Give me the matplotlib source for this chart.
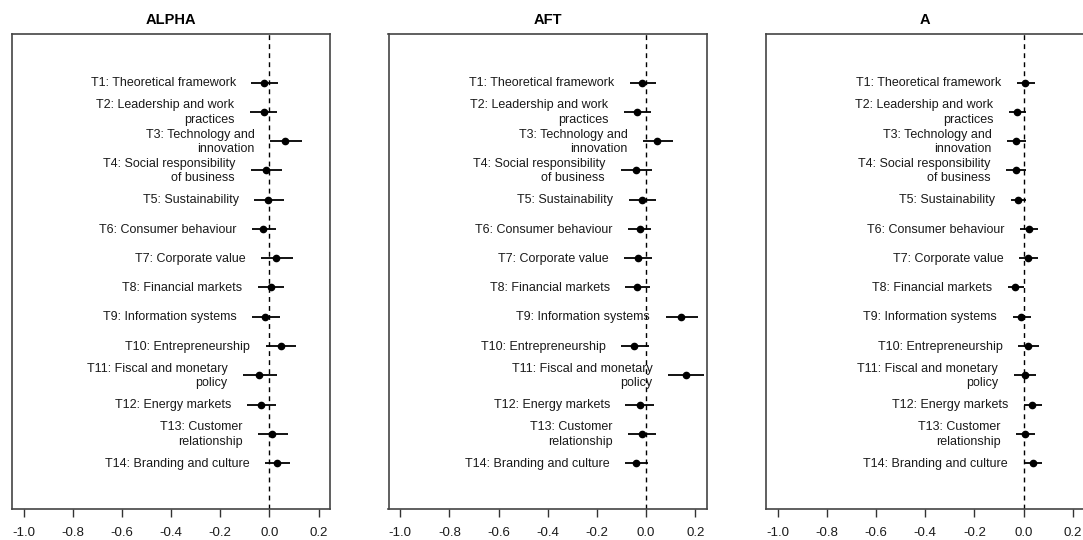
import numpy as np
import matplotlib
matplotlib.use("Agg")
import matplotlib.pyplot as plt

plt.rcParams['font.family'] = ['Liberation Sans', 'DejaVu Sans']
plt.rcParams['axes.unicode_minus'] = False

# topic labels (wrapped as in the original)
topics = [
    "T1: Theoretical framework",
    "T2: Leadership and work\npractices",
    "T3: Technology and\ninnovation",
    "T4: Social responsibility\nof business",
    "T5: Sustainability",
    "T6: Consumer behaviour",
    "T7: Corporate value",
    "T8: Financial markets",
    "T9: Information systems",
    "T10: Entrepreneurship",
    "T11: Fiscal and monetary\npolicy",
    "T12: Energy markets",
    "T13: Customer\nrelationship",
    "T14: Branding and culture",
]

panel_titles = ["ALPHA", "AFT", "A"]

# point estimates and 95% intervals
alpha_est = [-0.020, -0.023, 0.064, -0.014, -0.005, -0.026, 0.027, 0.008, -0.018, 0.046, -0.041, -0.033, 0.012, 0.031]
alpha_lo = [-0.073, -0.079, 0.003, -0.076, -0.062, -0.069, -0.033, -0.046, -0.069, -0.015, -0.107, -0.090, -0.045, -0.018]
alpha_hi = [0.037, 0.033, 0.134, 0.050, 0.060, 0.027, 0.095, 0.061, 0.045, 0.107, 0.030, 0.027, 0.076, 0.084]

aft_est = [-0.016, -0.039, 0.045, -0.043, -0.016, -0.026, -0.033, -0.039, 0.143, -0.048, 0.163, -0.026, -0.018, -0.042]
aft_lo = [-0.067, -0.090, -0.013, -0.104, -0.070, -0.073, -0.090, -0.085, 0.079, -0.101, 0.090, -0.084, -0.074, -0.086]
aft_hi = [0.039, 0.018, 0.109, 0.022, 0.041, 0.021, 0.024, 0.014, 0.211, 0.012, 0.237, 0.033, 0.039, 0.007]

a_est = [0.006, -0.026, -0.033, -0.033, -0.024, 0.020, 0.018, -0.034, -0.010, 0.017, 0.004, 0.035, 0.006, 0.038]
a_lo = [-0.026, -0.059, -0.067, -0.071, -0.053, -0.014, -0.017, -0.065, -0.045, -0.022, -0.040, 0.000, -0.030, 0.000]
a_hi = [0.047, 0.010, 0.010, 0.010, 0.010, 0.060, 0.058, 0.000, 0.028, 0.063, 0.052, 0.073, 0.047, 0.075]

x_ticks = [-1.0, -0.8, -0.6, -0.4, -0.2, 0.0, 0.2]

panels = [
    (alpha_est, alpha_lo, alpha_hi),
    (aft_est, aft_lo, aft_hi),
    (a_est, a_lo, a_hi),
]

W, H = 1083, 540
fig = plt.figure(figsize=(W / 100, H / 100), dpi=100)

left_px = [11.7, 388.5, 766.0]
ax_w, ax_b, ax_t = 318.6, 31.0, 506.5
ypos = np.arange(len(topics), 0, -1)

for i, (est, lo, hi) in enumerate(panels):
    ax = fig.add_axes([left_px[i] / W, ax_b / H, ax_w / W, (ax_t - ax_b) / H])
    ax.hlines(ypos, lo, hi, color='black', lw=1.3)
    ax.plot(est, ypos, 'o', color='black', ms=4.5)
    ax.axvline(0, color='black', lw=1.0, ls=(0, (3.5, 3)))
    for y, l, lab in zip(ypos, lo, topics):
        ax.annotate(lab, (l, y), xytext=(-11.2, -0.5), textcoords='offset points',
                    ha='right', va='center', multialignment='right',
                    linespacing=1.3, fontsize=9, color='#1a1a1a')
    ax.set_xlim(-1.048, 0.248)
    ax.set_ylim(-0.57, 15.68)
    ax.set_xticks(x_ticks)
    ax.set_xticklabels(["%.1f" % t for t in x_ticks], fontsize=9.5, color='#1a1a1a')
    ax.set_yticks([])
    ax.tick_params(axis='x', length=6, width=1, color='#333333', pad=7)
    for s in ax.spines.values():
        s.set_color('#444444')
        s.set_linewidth(1.2)
    ax.set_title(panel_titles[i], fontsize=10.5, fontweight='bold', pad=7)

fig.savefig("out.png", dpi=100)
